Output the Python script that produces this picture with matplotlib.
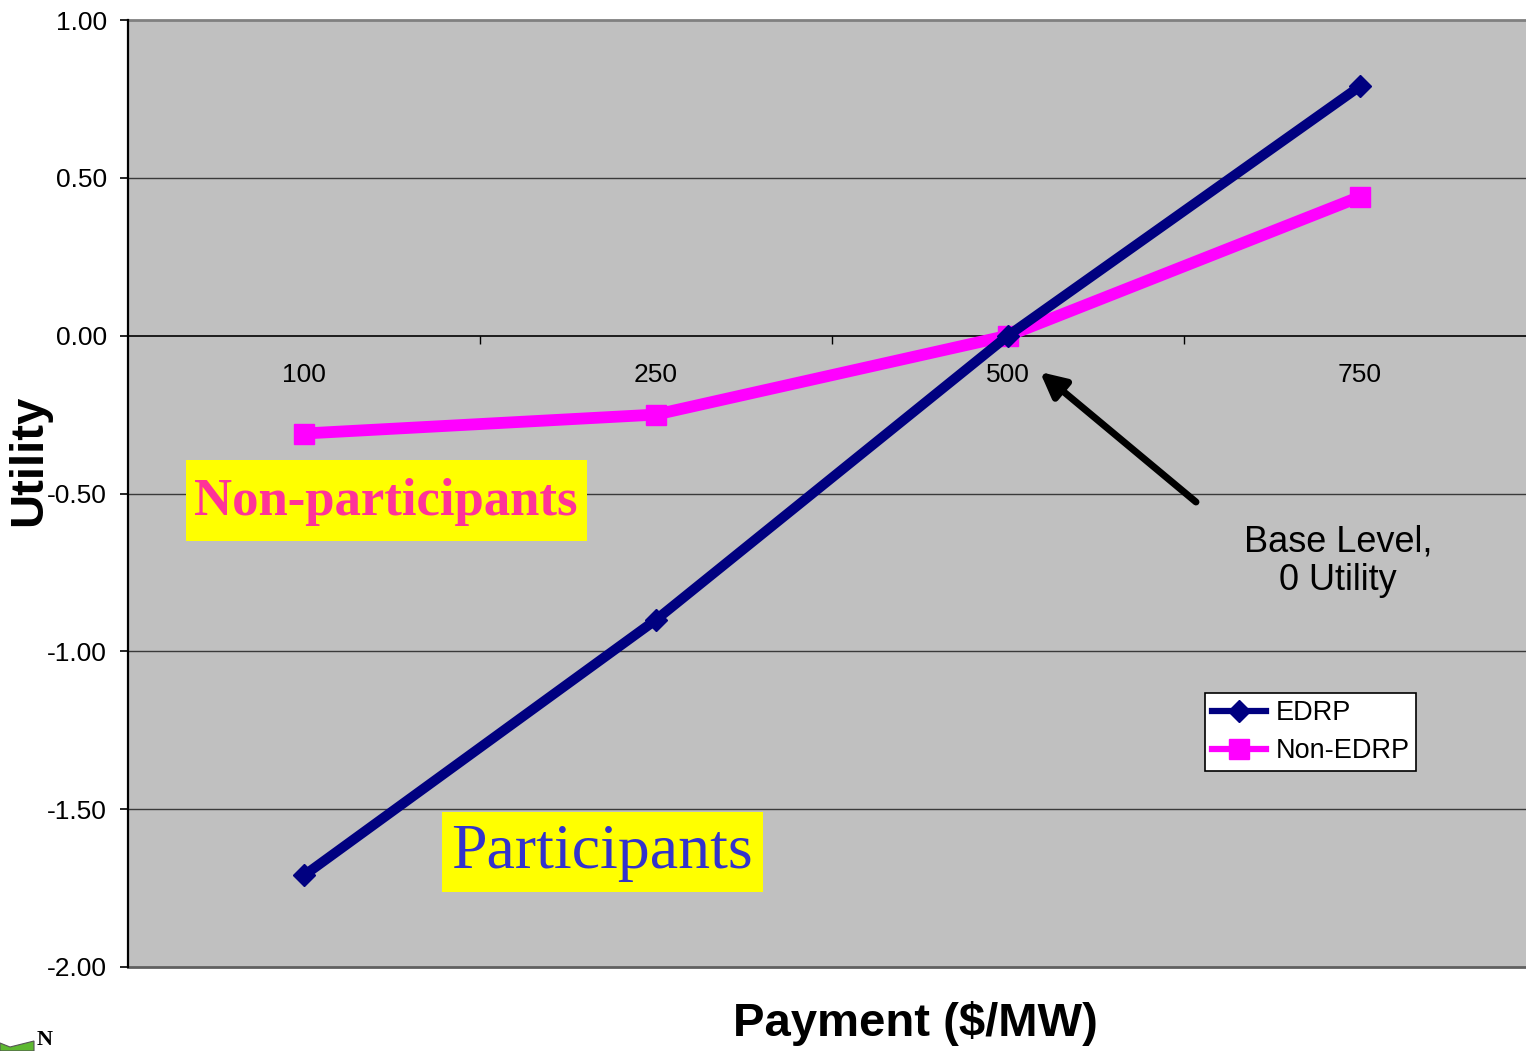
import matplotlib
matplotlib.use("Agg")
import matplotlib.pyplot as plt
from matplotlib.patches import Polygon, Rectangle

plt.rcParams["font.family"] = ["Liberation Sans", "DejaVu Sans"]

# Data
payments = ["100", "250", "500", "750"]
edrp = [-1.71, -0.90, 0.00, 0.79]
non_edrp = [-0.31, -0.25, 0.00, 0.44]
y_ticks = [-2.0, -1.5, -1.0, -0.5, 0.0, 0.5, 1.0]

W, H = 1526, 1051
fig = plt.figure(figsize=(W / 100, H / 100), dpi=100)
fig.patch.set_facecolor("white")

# Axes box in pixel terms: left 128, top 20, bottom 967, category width 352
left, top, bottom = 128, 20, 967
cat_w = 352
ax = fig.add_axes([left / W, (H - bottom) / H, 4 * cat_w / W, (bottom - top) / H])
ax.set_facecolor("#C0C0C0")
ax.set_xlim(-0.5, 3.5)
ax.set_ylim(-2.0, 1.0)

# Horizontal gridlines
for yv in y_ticks[1:-1]:
    if yv != 0:
        ax.axhline(yv, color="#3a3a3a", lw=1.0, zorder=1)
ax.axhline(1.0, color="#808080", lw=2.0, zorder=1, clip_on=False)

x = list(range(len(payments)))
ax.plot(x, edrp, color="#000080", lw=7.2, marker="D", ms=11,
        markerfacecolor="#000080", markeredgecolor="#000080",
        zorder=4, label="EDRP", clip_on=False)
ax.plot(x, non_edrp, color="#FF00FF", lw=8.5, marker="s", ms=15,
        markerfacecolor="#FF00FF", markeredgecolor="#FF00FF",
        zorder=3, label="Non-EDRP", clip_on=False)

# Spines: category axis crosses at zero
for s in ["top", "right"]:
    ax.spines[s].set_visible(False)
ax.spines["left"].set_color("black")
ax.spines["left"].set_linewidth(1.6)
ax.spines["bottom"].set_position(("data", 0))
ax.spines["bottom"].set_color("black")
ax.spines["bottom"].set_linewidth(1.2)
ax.axhline(-2.0, color="#606060", lw=2.0, zorder=1, clip_on=False)

ax.set_yticks(y_ticks)
ax.set_yticklabels([f"{v:.2f}" for v in y_ticks])
ax.tick_params(axis="y", direction="out", length=6, width=1.2, pad=9,
               labelsize=19, labelcolor="black")
ax.set_xticks(x)
ax.set_xticklabels(payments)
ax.set_xticks([0.5, 1.5, 2.5], minor=True)
ax.tick_params(axis="x", which="major", length=0, pad=20, labelsize=19)
ax.tick_params(axis="x", which="minor", direction="out", length=6, width=1.0)

# Legend
leg = ax.legend(loc="lower left", bbox_to_anchor=(0.765, 0.207), borderaxespad=0,
                fancybox=False, framealpha=1, edgecolor="black",
                prop={"size": 19.5},
                handlelength=2.0, handletextpad=0.35, borderpad=0.25,
                labelspacing=0.45, markerscale=1.0)
leg.get_frame().set_linewidth(1.2)
for h in leg.legend_handles:
    h.set_linewidth(4.5)

# Annotations
ax.annotate("", xy=(1040, H - 372), xycoords="figure pixels",
            xytext=(1196, H - 502), textcoords="figure pixels",
            arrowprops=dict(arrowstyle="-|>,head_length=1.5,head_width=0.75",
                        color="black", lw=5, shrinkA=0, shrinkB=0), zorder=6)
fig.text(1338 / W, 1 - 561 / H, "Base Level,\n0 Utility", ha="center", va="center",
         fontsize=26, linespacing=1.12)

# Highlighted callouts
fig.patches.append(Rectangle((186, H - 541), 401, 81, transform=None,
                             facecolor="#FFFF00", edgecolor="none", zorder=5))
fig.text(386 / W, 1 - 502 / H, "Non-participants", ha="center", va="center",
         fontsize=38, family="Liberation Serif", fontweight="bold", color="#FF3399",
         zorder=6)
fig.patches.append(Rectangle((442, H - 892), 321, 80, transform=None,
                             facecolor="#FFFF00", edgecolor="none", zorder=5))
fig.text(602 / W, 1 - 853 / H, "Participants", ha="center", va="center",
         fontsize=46, family="Liberation Serif", color="#3333CC", zorder=6)

# Axis titles
fig.text(29 / W, 1 - 460 / H, "Utility", rotation=90, ha="center", va="center",
         fontsize=34, fontweight="bold")
fig.text(915 / W, 1 - 1024 / H, "Payment ($/MW)", ha="center", va="center",
         fontsize=34, fontweight="bold")

# Corner logo fragment
fig.patches.append(Polygon([(0, 0), (34, 0), (34, 10), (10, 4), (0, 8)],
                           closed=True, transform=None, facecolor="#5DB830",
                           edgecolor="#555555", lw=0.8))
fig.text(37 / W, 1 / H, "N", fontsize=16, fontweight="bold",
         family="Liberation Serif", ha="left", va="bottom")

fig.savefig("out.png", dpi=100)
